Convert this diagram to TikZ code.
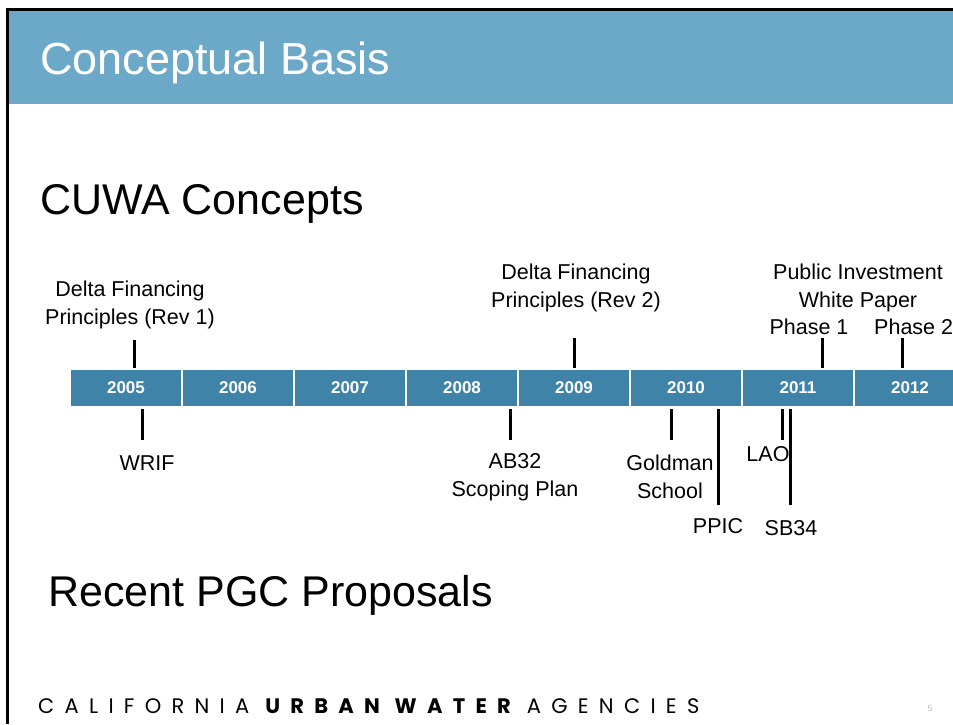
\documentclass[tikz,border=0pt]{standalone}
\usepackage{fontspec}
\setmainfont{Liberation Sans}
\newfontfamily\footfont[LetterSpace=49]{Poppins}
\usetikzlibrary{calc}
\definecolor{headblue}{RGB}{108,168,200}
\definecolor{yearblue}{RGB}{63,131,168}
\definecolor{pagegray}{RGB}{190,190,190}
\tikzset{
  yearbox/.style={fill=yearblue,minimum width=110pt,minimum height=36pt,inner sep=0pt,text=white,font=\fontsize{17}{17}\selectfont\bfseries},
  tick/.style={line width=3pt},
  lbl/.style={align=center,inner sep=0pt,font=\fontsize{21.5}{27.5}\selectfont},
  heading/.style={anchor=base west,inner sep=0pt,font=\fontsize{43}{43}\selectfont}
}

\begin{document}
\begin{tikzpicture}[x=1pt,y=-1pt]
\clip (0,0) rectangle (953,724);
\fill[white] (0,0) rectangle (953,724);
\fill[black] (6,8) rectangle (953,11);
\fill[black] (6,8) rectangle (9,724);
\fill[headblue] (9,11) rectangle (953,104);
\node[heading,text=white,font=\fontsize{45}{45}\selectfont] (title) at (40,74) {Conceptual Basis};
\node[heading] (cuwa) at (40,214) {CUWA Concepts};
\node[heading] (pgc) at (48,606) {Recent PGC Proposals};

\foreach \yr [count=\i from 0] in {2005,...,2012}
  \node[yearbox] (y\yr) at (126+112*\i,388) {\yr};

\node[lbl] (rev1) at (130,305) {Delta Financing\\Principles (Rev 1)};
\node[lbl] (rev2) at (576,288) {Delta Financing\\Principles (Rev 2)};
\node[lbl] (piwp) at (858,288) {Public Investment\\White Paper};
\node[lbl] (ph1) at (809,327) {Phase 1};
\node[lbl,anchor=west] (ph2) at (874,327) {Phase 2};
\node[lbl] (wrif) at (147,463) {WRIF};
\node[lbl] (ab32) at (515,477) {AB32\\Scoping Plan};
\node[lbl] (gold) at (670,477) {Goldman\\School};
\node[lbl] (lao) at (768,454) {LAO};
\node[lbl] (ppic) at (718,526) {PPIC};
\node[lbl] (sb34) at (791,528) {SB34};

\coordinate (trev1) at (134,340);
\coordinate (trev2) at (574,338);
\coordinate (tph1) at (822,338);
\coordinate (tph2) at (902,338);
\coordinate (twrif) at (142,440);
\coordinate (tab32) at (510,440);
\coordinate (tgold) at (671,440);
\coordinate (tppic) at (718,505);
\coordinate (tlao) at (782,440);
\coordinate (tsb34) at (790,505);
\draw[tick,shorten >=2pt] (trev1) -- (trev1 |- y2005.north);
\draw[tick,shorten >=2pt] (trev2) -- (trev2 |- y2009.north);
\draw[tick,shorten >=2pt] (tph1) -- (tph1 |- y2011.north);
\draw[tick,shorten >=2pt] (tph2) -- (tph2 |- y2012.north);
\draw[tick,shorten >=3pt] (twrif) -- (twrif |- y2005.south);
\draw[tick,shorten >=3pt] (tab32) -- (tab32 |- y2008.south);
\draw[tick,shorten >=3pt] (tgold) -- (tgold |- y2010.south);
\draw[tick,shorten >=3pt] (tppic) -- (tppic |- y2010.south);
\draw[tick,shorten >=3pt] (tlao) -- (tlao |- y2011.south);
\draw[tick,shorten >=3pt] (tsb34) -- (tsb34 |- y2011.south);

\node[anchor=base west,inner sep=0pt,font=\footfont\fontsize{21}{21}\selectfont] (foot) at (38,713) {CALIFORNIA {\bfseries URBAN WATER} AGENCIES};
\node[inner sep=0pt,text=pagegray,font=\fontsize{9}{9}\selectfont] (pnum) at (930,708) {5};
\end{tikzpicture}
\end{document}
